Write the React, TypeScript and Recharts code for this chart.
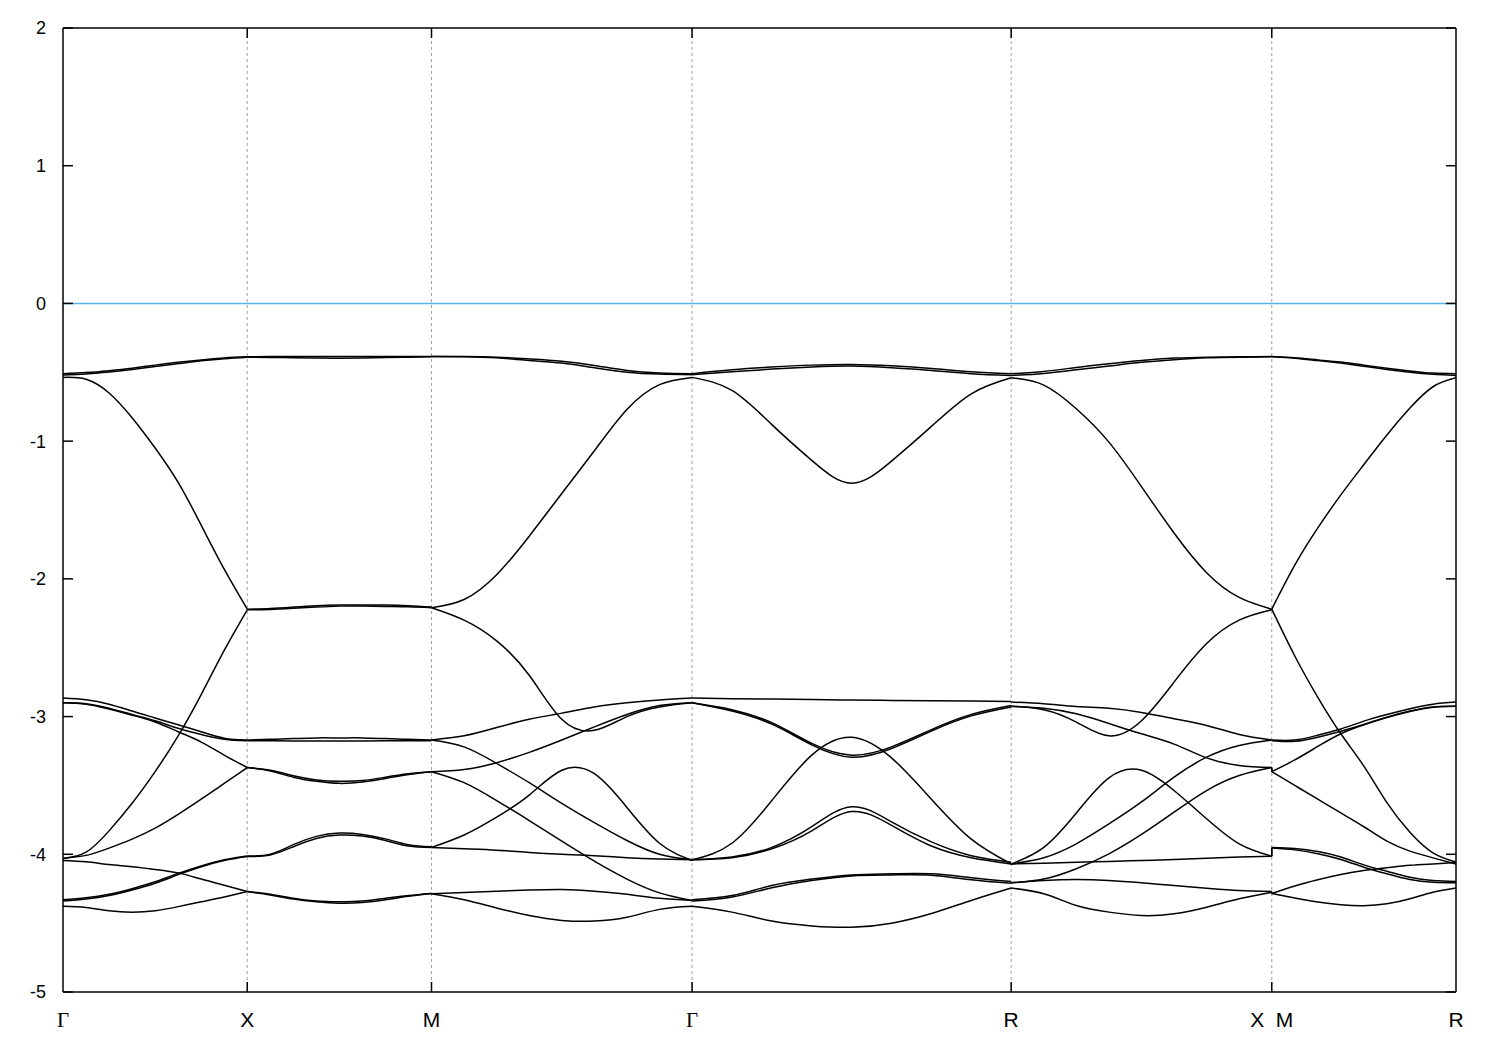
import React from 'react';
import { LineChart, Line, XAxis, YAxis, ReferenceLine } from 'recharts';

// high-symmetry points along the k-path (cumulative distance)
const kPoints = [0, 0.5, 1.0, 1.7071, 2.5731, 3.2802, 3.7802];
const kLabels = ['Γ', 'X', 'M', 'Γ', 'R', 'X\u00a0\u00a0M', 'R'];
const yTicks = [-5, -4, -3, -2, -1, 0, 1, 2];

// each segment: 12 bands x 9 samples (equally spaced along the segment)
const bandsGX = [
  [-0.51, -0.502, -0.488, -0.47, -0.448, -0.428, -0.41, -0.396, -0.388],
  [-0.52, -0.512, -0.498, -0.48, -0.458, -0.437, -0.417, -0.401, -0.39],
  [-0.537, -0.55, -0.65, -0.83, -1.05, -1.3, -1.61, -1.93, -2.22],
  [-4.03, -3.985, -3.83, -3.63, -3.4, -3.14, -2.84, -2.52, -2.225],
  [-2.866, -2.878, -2.91, -2.96, -3.01, -3.06, -3.11, -3.157, -3.17],
  [-2.9, -2.907, -2.94, -2.985, -3.03, -3.085, -3.13, -3.164, -3.175],
  [-2.9, -2.91, -2.945, -2.99, -3.04, -3.11, -3.185, -3.28, -3.37],
  [-4.03, -4.008, -3.955, -3.89, -3.81, -3.71, -3.6, -3.485, -3.37],
  [-4.045, -4.055, -4.074, -4.09, -4.11, -4.135, -4.18, -4.225, -4.27],
  [-4.33, -4.315, -4.29, -4.25, -4.2, -4.14, -4.085, -4.04, -4.012],
  [-4.34, -4.325, -4.3, -4.26, -4.21, -4.148, -4.09, -4.045, -4.016],
  [-4.377, -4.386, -4.41, -4.42, -4.41, -4.38, -4.345, -4.31, -4.27],
];

const bandsXM = [
  [-0.388, -0.386, -0.385, -0.385, -0.385, -0.385, -0.385, -0.385, -0.385],
  [-0.39, -0.392, -0.395, -0.397, -0.398, -0.396, -0.393, -0.39, -0.387],
  [-2.22, -2.215, -2.205, -2.195, -2.19, -2.19, -2.19, -2.195, -2.205],
  [-2.225, -2.222, -2.214, -2.205, -2.198, -2.197, -2.2, -2.203, -2.21],
  [-3.17, -3.165, -3.16, -3.155, -3.155, -3.155, -3.16, -3.165, -3.17],
  [-3.175, -3.176, -3.177, -3.177, -3.177, -3.177, -3.176, -3.175, -3.175],
  [-3.37, -3.39, -3.43, -3.46, -3.47, -3.465, -3.44, -3.415, -3.4],
  [-3.37, -3.395, -3.44, -3.47, -3.485, -3.475, -3.45, -3.42, -3.4],
  [-4.27, -4.29, -4.32, -4.34, -4.345, -4.34, -4.32, -4.3, -4.285],
  [-4.012, -3.999, -3.93, -3.87, -3.846, -3.856, -3.888, -3.93, -3.945],
  [-4.016, -4.005, -3.945, -3.885, -3.86, -3.868, -3.9, -3.94, -3.95],
  [-4.27, -4.295, -4.325, -4.345, -4.355, -4.35, -4.33, -4.305, -4.285],
];

const bandsMG = [
  [-0.385, -0.385, -0.39, -0.403, -0.42, -0.45, -0.487, -0.505, -0.51],
  [-0.385, -0.387, -0.395, -0.414, -0.433, -0.467, -0.499, -0.513, -0.518],
  [-2.21, -2.15, -1.97, -1.69, -1.38, -1.07, -0.77, -0.59, -0.537],
  [-2.21, -2.3, -2.45, -2.7, -3.02, -3.1, -3.0, -2.93, -2.9],
  [-3.17, -3.14, -3.08, -3.02, -2.975, -2.93, -2.9, -2.88, -2.866],
  [-3.17, -3.22, -3.34, -3.48, -3.63, -3.77, -3.9, -4.0, -4.04],
  [-3.4, -3.385, -3.335, -3.26, -3.17, -3.075, -2.985, -2.92, -2.9],
  [-3.4, -3.48, -3.61, -3.755, -3.905, -4.05, -4.18, -4.28, -4.335],
  [-3.95, -3.86, -3.73, -3.57, -3.39, -3.415, -3.66, -3.92, -4.045],
  [-3.95, -3.96, -3.97, -3.987, -4.0, -4.01, -4.025, -4.035, -4.04],
  [-4.287, -4.277, -4.268, -4.26, -4.256, -4.268, -4.29, -4.32, -4.335],
  [-4.287, -4.33, -4.39, -4.445, -4.48, -4.485, -4.457, -4.4, -4.377],
];

const bandsGR = [
  [-0.51, -0.482, -0.462, -0.448, -0.443, -0.453, -0.472, -0.496, -0.51],
  [-0.518, -0.496, -0.477, -0.462, -0.455, -0.467, -0.487, -0.51, -0.523],
  [-0.537, -0.632, -0.88, -1.14, -1.305, -1.145, -0.893, -0.656, -0.54],
  [-2.866, -2.87, -2.873, -2.876, -2.88, -2.883, -2.885, -2.887, -2.89],
  [-2.9, -2.95, -3.045, -3.195, -3.28, -3.22, -3.095, -2.985, -2.92],
  [-2.9, -2.96, -3.055, -3.205, -3.295, -3.232, -3.105, -2.995, -2.93],
  [-4.04, -3.92, -3.61, -3.28, -3.15, -3.3, -3.6, -3.89, -4.07],
  [-4.04, -4.02, -3.95, -3.8, -3.655, -3.765, -3.91, -4.01, -4.057],
  [-4.04, -4.025, -3.96, -3.83, -3.69, -3.79, -3.94, -4.025, -4.07],
  [-4.33, -4.3, -4.227, -4.18, -4.15, -4.142, -4.142, -4.17, -4.197],
  [-4.34, -4.31, -4.243, -4.19, -4.157, -4.15, -4.152, -4.185, -4.21],
  [-4.377, -4.42, -4.485, -4.52, -4.53, -4.5, -4.43, -4.335, -4.245],
];

const bandsRX = [
  [-0.51, -0.494, -0.465, -0.438, -0.414, -0.397, -0.39, -0.388, -0.385],
  [-0.523, -0.508, -0.482, -0.455, -0.428, -0.409, -0.395, -0.39, -0.388],
  [-0.54, -0.593, -0.765, -1.007, -1.33, -1.667, -1.955, -2.135, -2.22],
  [-2.925, -2.95, -3.04, -3.14, -3.03, -2.75, -2.47, -2.3, -2.225],
  [-2.895, -2.907, -2.927, -2.94, -2.97, -3.016, -3.065, -3.13, -3.17],
  [-2.925, -2.94, -2.98, -3.05, -3.125, -3.2, -3.3, -3.355, -3.37],
  [-4.07, -4.025, -3.924, -3.78, -3.62, -3.44, -3.295, -3.21, -3.17],
  [-4.207, -4.18, -4.105, -3.997, -3.856, -3.694, -3.537, -3.428, -3.37],
  [-4.07, -3.95, -3.7, -3.445, -3.39, -3.537, -3.742, -3.924, -4.014],
  [-4.07, -4.065, -4.057, -4.052, -4.045, -4.038, -4.028, -4.02, -4.014],
  [-4.207, -4.19, -4.183, -4.19, -4.207, -4.227, -4.246, -4.263, -4.27],
  [-4.245, -4.287, -4.372, -4.42, -4.445, -4.432, -4.384, -4.323, -4.275],
];

const bandsMR = [
  [-0.385, -0.395, -0.41, -0.426, -0.448, -0.47, -0.49, -0.506, -0.51],
  [-0.388, -0.398, -0.415, -0.433, -0.457, -0.48, -0.5, -0.515, -0.523],
  [-2.22, -1.9, -1.63, -1.39, -1.17, -0.955, -0.76, -0.605, -0.54],
  [-2.22, -2.56, -2.86, -3.125, -3.36, -3.625, -3.84, -3.99, -4.057],
  [-3.17, -3.17, -3.135, -3.09, -3.033, -2.985, -2.943, -2.91, -2.895],
  [-3.175, -3.18, -3.15, -3.106, -3.057, -3.004, -2.96, -2.93, -2.925],
  [-3.4, -3.315, -3.217, -3.125, -3.06, -3.007, -2.963, -2.932, -2.925],
  [-3.4, -3.5, -3.6, -3.7, -3.8, -3.905, -3.977, -4.026, -4.07],
  [-3.95, -3.958, -3.98, -4.02, -4.077, -4.123, -4.166, -4.19, -4.197],
  [-3.955, -3.968, -3.996, -4.038, -4.094, -4.142, -4.183, -4.203, -4.207],
  [-4.285, -4.23, -4.185, -4.147, -4.118, -4.098, -4.08, -4.07, -4.06],
  [-4.285, -4.318, -4.347, -4.367, -4.374, -4.36, -4.323, -4.275, -4.244],
];

const segments = [bandsGX, bandsXM, bandsMG, bandsGR, bandsRX, bandsMR];

// band pairs joined by a vertical step at the X|M discontinuity: [R-X band, M-R band]
const xmJumps = [
  [8, 8],
  [9, 9],
  [5, 6],
  [7, 7],
  [10, 10],
  [11, 11],
];

// build chart rows keyed by k
const rowMap = new Map<number, Record<string, number>>();
segments.forEach((bands, s) => {
  const k0 = kPoints[s];
  const k1 = kPoints[s + 1];
  const n = bands[0].length;
  for (let i = 0; i < n; i++) {
    const k = i === n - 1 ? k1 : k0 + ((k1 - k0) * i) / (n - 1);
    const key = Math.round(k * 1e6);
    let row = rowMap.get(key);
    if (!row) {
      row = { k };
      rowMap.set(key, row);
    }
    bands.forEach((vals, b) => {
      row![`s${s}b${b}`] = vals[i];
    });
  }
});
const baseRows = Array.from(rowMap.values()).sort((a, b) => a.k - b.k);
const xmKey = kPoints[5];
const data: Record<string, number>[] = [];
baseRows.forEach((row) => {
  if (Math.abs(row.k - xmKey) < 1e-9) {
    const pre: Record<string, number> = { k: xmKey };
    xmJumps.forEach(([a, b], j) => {
      pre[`j${j}`] = bandsRX[a][bandsRX[a].length - 1];
      row[`j${j}`] = bandsMR[b][0];
    });
    data.push(pre);
  }
  data.push(row);
});

const W = 1500;
const H = 1050;
const M = { top: 28, right: 44, bottom: 28, left: 13 };
const Y_AXIS_W = 50;
const X_AXIS_H = 30;
const kMax = kPoints[kPoints.length - 1];
const plotW = W - M.left - M.right - Y_AXIS_W;
const plotH = H - M.top - M.bottom - X_AXIS_H;
const TICK_PX = 10;
const tickK = (TICK_PX * kMax) / plotW;
const tickE = (TICK_PX * 7) / plotH;

const XTick = (props: any) => {
  const { x, y, payload } = props;
  let idx = 0;
  let best = Infinity;
  kPoints.forEach((kp, i) => {
    const d = Math.abs(kp - payload.value);
    if (d < best) {
      best = d;
      idx = i;
    }
  });
  const label = kLabels[idx];
  const serif = label === 'Γ';
  return (
    <text
      x={x}
      y={y}
      dy="0.71em"
      textAnchor="middle"
      fontSize={21}
      fill="#000"
      fontFamily={serif ? '"Liberation Serif", "DejaVu Serif", serif' : '"Liberation Sans", Arial, sans-serif'}
    >
      {label}
    </text>
  );
};

export default function App() {
  const inner = kPoints.slice(1, kPoints.length - 1);
  return (
    <div style={{ position: 'absolute', left: 0, top: 0, width: W, height: H, background: '#fff' }}>
      <LineChart width={W} height={H} data={data} margin={M}>
        <XAxis
          dataKey="k"
          type="number"
          domain={[0, kMax]}
          ticks={kPoints}
          interval={0}
          allowDataOverflow
          tick={(p: any) => <XTick {...p} />}
          tickLine={false}
          tickSize={0}
          tickMargin={20}
          height={X_AXIS_H}
          axisLine={{ stroke: '#000', strokeWidth: 1.5 }}
        />
        <YAxis
          type="number"
          domain={[-5, 2]}
          ticks={yTicks}
          interval={0}
          allowDataOverflow
          tickLine={false}
          tickSize={0}
          tickMargin={17}
          width={Y_AXIS_W}
          axisLine={{ stroke: '#000', strokeWidth: 1.5 }}
          tick={{ fill: '#000', fontSize: 18, fontFamily: '"Liberation Sans", Arial, sans-serif' }}
        />
        {inner.map((kp, i) => (
          <ReferenceLine key={`g${i}`} x={kp} stroke="#a0a0a0" strokeWidth={1} strokeDasharray="3 3" />
        ))}
        <ReferenceLine y={0} stroke="#56b4e9" strokeWidth={1.6} />
        {segments.flatMap((bands, s) =>
          bands.map((_, b) => (
            <Line
              key={`s${s}b${b}`}
              dataKey={`s${s}b${b}`}
              type="natural"
              stroke="#000"
              strokeWidth={1.5}
              dot={false}
              activeDot={false}
              connectNulls
              isAnimationActive={false}
              legendType="none"
            />
          ))
        )}
        {xmJumps.map((_, j) => (
          <Line
            key={`j${j}`}
            dataKey={`j${j}`}
            type="linear"
            stroke="#000"
            strokeWidth={1.5}
            dot={false}
            activeDot={false}
            isAnimationActive={false}
            legendType="none"
          />
        ))}
        <ReferenceLine y={2} stroke="#000" strokeWidth={1.5} />
        <ReferenceLine x={kMax} stroke="#000" strokeWidth={1.5} />
        {yTicks.map((v) => (
          <ReferenceLine key={`yl${v}`} segment={[{ x: 0, y: v }, { x: tickK, y: v }]} stroke="#000" strokeWidth={1.5} />
        ))}
        {yTicks.map((v) => (
          <ReferenceLine key={`yr${v}`} segment={[{ x: kMax - tickK, y: v }, { x: kMax, y: v }]} stroke="#000" strokeWidth={1.5} />
        ))}
        {inner.map((kp, i) => (
          <ReferenceLine key={`xb${i}`} segment={[{ x: kp, y: -5 }, { x: kp, y: -5 + tickE }]} stroke="#000" strokeWidth={1.5} />
        ))}
        {inner.map((kp, i) => (
          <ReferenceLine key={`xt${i}`} segment={[{ x: kp, y: 2 - tickE }, { x: kp, y: 2 }]} stroke="#000" strokeWidth={1.5} />
        ))}
      </LineChart>
    </div>
  );
}
